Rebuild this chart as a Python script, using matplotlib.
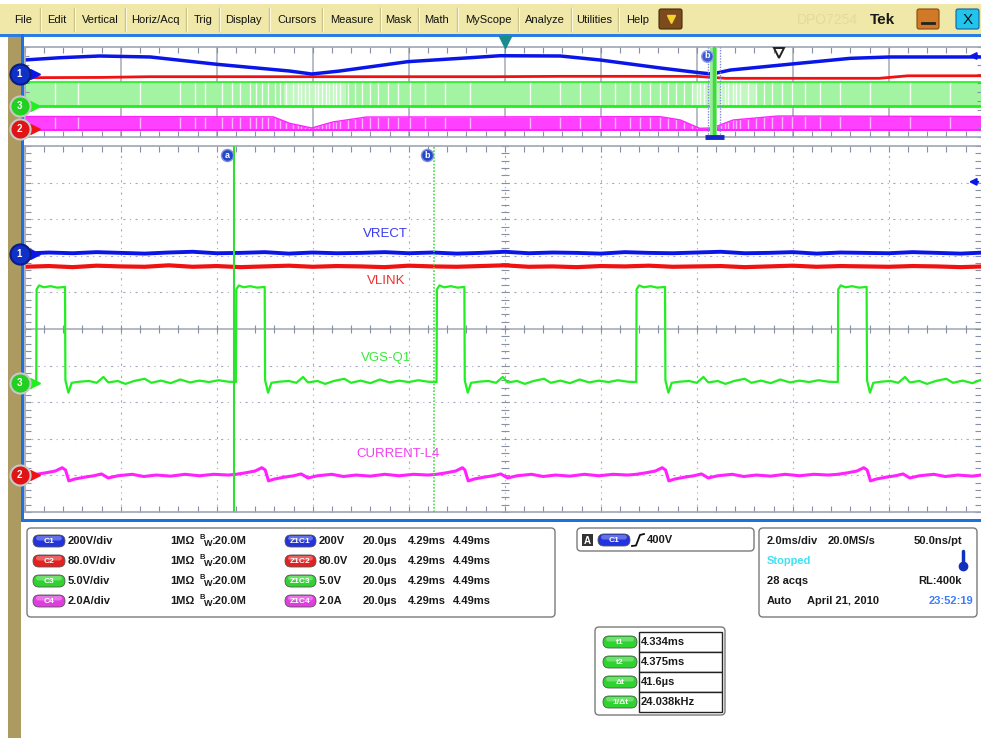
import numpy as np
import matplotlib
matplotlib.use("Agg")
import matplotlib.pyplot as plt
from matplotlib.patches import Rectangle, FancyBboxPatch
from matplotlib.transforms import blended_transform_factory

plt.rcParams['font.family'] = ['Liberation Sans', 'DejaVu Sans']

W, H = 981, 738
X0 = 24.7                     # left edge of the graticule, px
DIV_PX = 96.0                 # px per horizontal division
XMAX = (W - X0) / DIV_PX      # visible divisions

# ---------------- overview record (2.0 ms/div), values in divisions ----------------
ov_vrect_t = [0, 0.37, 0.78, 1.31, 2.0, 2.76, 2.99, 3.28, 3.99, 4.64, 4.95, 5.58,
              5.99, 6.62, 7.03, 7.16, 7.35, 7.99, 8.6, 9.01, 9.96]
ov_vrect_v = [3.56, 3.81, 4.0, 3.89, 3.08, 2.33, 2.0, 2.33, 3.37, 3.81, 4.03, 4.0,
              3.56, 2.67, 2.14, 2.0, 2.44, 3.11, 3.74, 3.89, 3.89]
ov_vlink_t = [0, 0.8, 1.3, 4.9, 5.6, 7.0, 7.3, 8.9, 9.2, 9.96]
ov_vlink_v = [1.59, 1.62, 1.70, 1.70, 1.74, 1.74, 1.52, 1.52, 1.80, 1.80]
ov_vgs_hi, ov_vgs_lo = 1.14, -1.56
ov_il_top_t = [0, 2.59, 2.76, 2.99, 3.21, 3.56, 6.62, 6.83, 7.03, 7.16, 7.38, 7.84, 9.96]
ov_il_top_v = [-2.72, -2.76, -3.48, -4.0, -3.33, -2.78, -2.74, -3.11, -4.03, -4.0,
               -3.11, -2.67, -2.72]
ov_il_bot = -4.22
ov_alias_t = [0.32, 0.56, 1.20, 1.62, 1.77, 1.88, 2.06, 2.16, 2.24, 2.35, 2.41, 2.47,
              2.53, 2.61, 2.66, 2.72, 2.80, 2.85, 2.88, 2.92, 2.96, 3.02, 3.06, 3.10,
              3.14, 3.17, 3.21, 3.24, 3.28, 3.37, 3.44, 3.51, 3.60, 3.68, 3.78, 3.89,
              4.01, 4.17, 4.38, 4.64, 5.26, 5.58, 5.78, 5.99, 6.15, 6.31, 6.41, 6.51,
              6.62, 6.70, 6.78, 6.87, 6.95, 7.00, 7.03, 7.08, 7.25, 7.29, 7.33, 7.38,
              7.41, 7.45, 7.53, 7.62, 7.70, 7.78, 7.89, 7.99, 8.13, 8.28, 8.49, 8.81,
              9.22, 9.64]
ov_pale_zones = [(2.70, 3.35), (6.95, 7.62)]
ov_ground = {'1': 2.0, '3': -1.52, '2': -4.11}
ov_trig_level = 4.0
zoom_box = (7.12, 7.24)
zoom_cursor = (7.14, 7.21)

# ---------------- zoomed record (20 us/div), values in divisions ----------------
sample_t = np.linspace(0, 10, 41)
vrect_v = [2.06, 2.09, 2.07, 2.10, 2.08, 2.06, 2.09, 2.11, 2.07, 2.08, 2.10, 2.06, 2.09,
           2.07, 2.08, 2.10, 2.07, 2.09, 2.06, 2.08, 2.11, 2.07, 2.09, 2.08, 2.06, 2.10,
           2.08, 2.07, 2.09, 2.11, 2.07, 2.08, 2.10, 2.06, 2.09, 2.08, 2.07, 2.10, 2.08,
           2.06, 2.09]
vlink_v = [1.70, 1.72, 1.69, 1.73, 1.71, 1.70, 1.74, 1.70, 1.72, 1.69, 1.71, 1.73, 1.70,
           1.72, 1.71, 1.69, 1.73, 1.71, 1.70, 1.72, 1.74, 1.70, 1.71, 1.69, 1.72, 1.71,
           1.73, 1.70, 1.71, 1.72, 1.69, 1.71, 1.73, 1.70, 1.72, 1.71, 1.70, 1.72, 1.71,
           1.69, 1.71]
t_rise = [0.12, 2.20, 4.29, 6.37, 8.47]
t_fall = [0.42, 2.50, 4.58, 6.67, 8.77]
vgs_high_dt = [0.004, 0.03, 0.08, 0.15, 0.22]
vgs_high_v = [1.08, 1.19, 1.14, 1.17, 1.13]
vgs_low_dt = [0.004, 0.035, 0.07, 0.15, 0.25, 0.33, 0.40, 0.45, 0.55, 0.63, 0.72, 0.83,
              0.90, 1.00, 1.10, 1.20, 1.30, 1.40, 1.50, 1.60, 1.70]
vgs_low_v = [-1.40, -1.74, -1.47, -1.44, -1.42, -1.47, -1.31, -1.46, -1.42, -1.50,
             -1.42, -1.36, -1.47, -1.41, -1.48, -1.38, -1.46, -1.41, -1.45, -1.40, -1.44]
il_on_dt = [0.10, 0.20, 0.27]
il_on_v = [-3.93, -3.88, -3.79]
il_off_dt = [0.005, 0.04, 0.10, 0.2, 0.3, 0.38, 0.45, 0.55, 0.7, 0.82, 0.95, 1.1, 1.25,
             1.4, 1.55, 1.7]
il_off_v = [-3.85, -4.15, -4.10, -4.05, -4.01, -3.96, -4.07, -4.01, -3.97, -4.03, -3.99,
            -4.02, -3.97, -4.01, -3.97, -3.99]
main_ground = {'1': 2.04, '3': -1.47, '2': -3.99}
main_trig_level = 4.02
cursor_a, cursor_b = 2.18, 4.26

# ---------------- readout texts ----------------
menu_items = ['File', 'Edit', 'Vertical', 'Horiz/Acq', 'Trig', 'Display', 'Cursors',
              'Measure', 'Mask', 'Math', 'MyScope', 'Analyze', 'Utilities', 'Help']
menu_x = [23.5, 57, 100, 155.5, 203, 243.5, 296.5, 352, 398.5, 436.5, 488.5, 545, 594.5, 638]
menu_sep = [39.5, 74, 125, 186, 219, 269, 322, 380, 418, 457, 518, 571, 618]
ch_names = ['C1', 'C2', 'C3', 'C4']
ch_colors = ['#2233DD', '#E52020', '#2FD32F', '#E03CE0']
ch_scale = ['200V/div', '80.0V/div', '5.0V/div', '2.0A/div']
zoom_names = ['Z1C1', 'Z1C2', 'Z1C3', 'Z1C4']
zoom_scale = ['200V', '80.0V', '5.0V', '2.0A']
cur_names = ['t1', 't2', '\u0394t', '1/\u0394t']
cur_values = ['4.334ms', '4.375ms', '41.6\u00b5s', '24.038kHz']

BLUE, RED, GREEN, MAG = '#0A16E8', '#F01212', '#22EE22', '#FF22FF'
GRID, TICK, FRAME = '#A4AABC', '#8890A6', '#A0A5B5'
TAN = '#AC9A60'

fig = plt.figure(figsize=(W / 100, H / 100), dpi=100)
fig.patch.set_facecolor('white')
bg = fig.add_axes([0, 0, 1, 1])
bg.set_xlim(0, W)
bg.set_ylim(H, 0)
bg.axis('off')
bg.set_zorder(-1)


def box(x0, y0, x1, y1, r=4, fc='white', ec='#7A7A7A', lw=1.0, z=1, alpha=1.0):
    bg.add_patch(FancyBboxPatch((x0, y0), x1 - x0, y1 - y0,
                                boxstyle=f'round,pad=0,rounding_size={r}',
                                fc=fc, ec=ec, lw=lw, zorder=z, alpha=alpha))


def pill(xc, yc, w, color, label, h=12):
    box(xc - w / 2, yc - h / 2, xc + w / 2, yc + h / 2, r=h / 2, fc=color, ec='#555555', lw=0.6, z=3)
    box(xc - w / 2 + 3, yc - h / 2 + 1, xc + w / 2 - 3, yc - 0.5, r=2.5, fc='white', ec='none', z=4, alpha=0.3)
    bg.text(xc, yc + 0.5, label, color='white', fontsize=6, fontweight='bold', ha='center', va='center', zorder=5)


def txt(x, y, s, **kw):
    kw.setdefault('fontsize', 8)
    kw.setdefault('fontweight', 'bold')
    kw.setdefault('va', 'center')
    kw.setdefault('color', '#1A1A1A')
    bg.text(x, y, s, **kw)


# ---------------- window chrome ----------------
bg.add_patch(Rectangle((0, 4), W, 30, fc='#EFE8A9', ec='none'))
bg.add_patch(Rectangle((0, 33.5), W, 3.5, fc='#2A7DE1', ec='none'))
for sx in menu_sep:
    bg.plot([sx, sx], [8, 31], color='#CCC38A', lw=1)
    bg.plot([sx + 1, sx + 1], [8, 31], color='#FBF7DA', lw=0.8)
for name, cx in zip(menu_items, menu_x):
    txt(cx, 20, name, ha='center', fontweight='normal', color='#111111')
box(659, 9, 682, 29, r=2, fc='#7B4B1E', ec='#4A2A0A', lw=0.8)
bg.plot([670.5], [19], marker='v', ms=6, color='#F5D32A')
txt(827, 20, 'DPO7254', ha='center', fontsize=10, fontweight='normal', color='#E4DA9A')
txt(882, 20, 'Tek', ha='center', fontsize=11)
box(917, 9, 939, 29, r=2, fc='#D07A28', ec='#8A4A10', lw=0.8)
bg.plot([922, 934], [23, 23], color='#222222', lw=2)
box(956, 9, 979, 29, r=2, fc='#22C4EE', ec='#1060A0', lw=0.8)
txt(967.5, 19.5, 'X', ha='center', fontsize=11, fontweight='normal', color='#111111')

bg.add_patch(Rectangle((8, 37), 13, H - 37, fc=TAN, ec='none'))
bg.add_patch(Rectangle((21, 34), 3, 488, fc='#1E6FE0', ec='none'))
bg.add_patch(Rectangle((21, 519), W - 21, 3, fc='#1E6FE0', ec='none'))

# ---------------- graticules ----------------
ov = fig.add_axes([X0 / W, 1 - 137 / H, (W - X0) / W, 90 / H])
ax = fig.add_axes([X0 / W, 1 - 512 / H, (W - X0) / W, 366 / H])
for a in (ov, ax):
    a.set_xlim(0, XMAX)
    a.set_ylim(-5, 5)
    a.set_facecolor('white')
    for side in ('top', 'bottom', 'left'):
        a.spines[side].set_color(FRAME)
        a.spines[side].set_linewidth(1.2)
    a.spines['right'].set_visible(False)
    a.set_xticks(np.arange(0, XMAX, 0.2))
    a.tick_params(which='both', direction='in', top=True, bottom=True, left=True, right=True,
                  labelbottom=False, labelleft=False, color=TICK, width=0.8)

ov.set_yticks(np.arange(-5, 5.1, 1))
ov.tick_params(axis='x', length=4.3)
ov.tick_params(axis='y', length=3)
for xv in range(1, 10):
    ov.axvline(xv, color='#B2B6C2', lw=1.3, zorder=0.5)
ov.axhline(0, color='#B2B6C2', lw=1.3, zorder=0.5)

ax.set_yticks(np.arange(-5, 5.01, 0.2))
ax.tick_params(axis='x', length=4.5)
ax.tick_params(axis='y', length=4.3)
for xv in range(1, 10):
    ax.axvline(xv, color=GRID, lw=0.8, ls=(0, (2, 4, 1, 4)), zorder=0.5)
for yv in range(-4, 5):
    if yv != 0:
        ax.axhline(yv, color=GRID, lw=0.8, ls=(0, (2, 4, 1, 4)), zorder=0.5)
ax.axhline(0, color=FRAME, lw=1.1, zorder=0.5)
xt = np.arange(0, XMAX, 0.2)
yt = np.arange(-5, 5.01, 0.2)
ax.plot(xt, np.zeros_like(xt), ls='none', marker='|', ms=5.5, mew=0.8, color=TICK, zorder=0.6)
ax.plot(np.full_like(yt, 5.0), yt, ls='none', marker='_', ms=5.5, mew=0.8, color=TICK, zorder=0.6)

# ---------------- overview traces ----------------
ov.fill_between([0, XMAX], ov_vgs_lo, ov_vgs_hi, color='#A2F4A2', lw=0, zorder=1)
for z0, z1 in ov_pale_zones:
    ov.fill_between([z0, z1], ov_vgs_lo, ov_vgs_hi, color='white', alpha=0.35, lw=0, zorder=1.1)
ov.vlines(ov_alias_t, ov_vgs_lo, ov_vgs_hi, color='white', lw=1.0, alpha=0.9, zorder=1.2)
ov.plot([0, XMAX], [ov_vgs_hi, ov_vgs_hi], color=GREEN, lw=1.2, zorder=1.3)
ov.plot([0, XMAX], [ov_vgs_lo, ov_vgs_lo], color=GREEN, lw=2.0, zorder=1.3)

ov.fill_between(ov_il_top_t, ov_il_bot, ov_il_top_v, color='#FF40FF', lw=0, zorder=1)
ov.vlines(ov_alias_t, ov_il_bot, np.interp(ov_alias_t, ov_il_top_t, ov_il_top_v),
          color='#FFB8FF', lw=1.0, zorder=1.2)
ov.plot(ov_il_top_t, ov_il_top_v, color=MAG, lw=1.0, zorder=1.3)
ov.plot([0, XMAX], [ov_il_bot, ov_il_bot], color=MAG, lw=1.5, zorder=1.3)

ov.plot(ov_vlink_t, ov_vlink_v, color=RED, lw=2.0, zorder=2)
ov.plot(ov_vrect_t, ov_vrect_v, color=BLUE, lw=2.5, zorder=2.1)

# zoom window and cursors in the overview
ov.axvspan(zoom_cursor[0], zoom_cursor[1], color='#9CEB9C', lw=0, zorder=3)
ov.axvline(sum(zoom_cursor) / 2, color='#3CDC3C', lw=2.5, zorder=3.1)
for zb in zoom_box:
    ov.axvline(zb, color='#8088E0', lw=1.0, ls=(0, (1, 1)), zorder=3.2)
ov.plot([zoom_box[0] - 0.03, zoom_box[1] + 0.04], [-5, -5], color='#1428C8', lw=3.5,
        solid_capstyle='butt', clip_on=False, zorder=5)
ov.scatter([zoom_box[0] - 0.01], [4.0], s=70, color='#3A5AD0', edgecolors='#90A0E8',
           linewidths=1, zorder=6, clip_on=False)
ov.text(zoom_box[0] - 0.01, 4.0, 'b', color='white', fontsize=6.5, fontweight='bold',
        ha='center', va='center', zorder=7)
ov.plot([7.86], [4.3], marker='v', ms=7.5, mfc='white', mec='#222222', mew=1.4, zorder=6)
trig_tr = blended_transform_factory(ov.transData, fig.transFigure)
ov.plot([5.0], [1 - 41.5 / H], marker='v', ms=8, color='#188C8C', transform=trig_tr,
        clip_on=False, zorder=6)

# ---------------- zoomed traces ----------------
ax.plot(sample_t, vrect_v, color=BLUE, lw=2.8, zorder=2)
ax.plot(sample_t, vlink_v, color=RED, lw=3.0, zorder=2)

vgs_x, vgs_y = [0.0], [-1.45]
il_x, il_y = [0.0], [-3.98]
for i, (r, f) in enumerate(zip(t_rise, t_fall)):
    nxt = t_rise[i + 1] if i + 1 < len(t_rise) else XMAX + 0.1
    vgs_x.append(r)
    vgs_y.append(-1.45)
    for dt, v in zip(vgs_high_dt, vgs_high_v):
        vgs_x.append(r + dt)
        vgs_y.append(v)
    vgs_x.append(f)
    vgs_y.append(1.15)
    for dt, v in zip(vgs_low_dt, vgs_low_v):
        if f + dt < nxt:
            vgs_x.append(f + dt)
            vgs_y.append(v)
    il_x.append(r)
    il_y.append(-3.97)
    for dt, v in zip(il_on_dt, il_on_v):
        il_x.append(r + dt)
        il_y.append(v)
    for dt, v in zip(il_off_dt, il_off_v):
        if f + dt < nxt:
            il_x.append(f + dt)
            il_y.append(v)
ax.plot(vgs_x, vgs_y, color=GREEN, lw=1.6, zorder=2.2)
ax.plot(il_x, il_y, color=MAG, lw=2.2, zorder=2.2)

ax.text(3.52, 2.60, 'VRECT', color='#3A3AF0', fontsize=9.5, va='center', zorder=4)
ax.text(3.57, 1.31, 'VLINK', color='#F03030', fontsize=9.5, va='center', zorder=4)
ax.text(3.50, -0.79, 'VGS-Q1', color='#3CE83C', fontsize=9.5, va='center', zorder=4)
ax.text(3.46, -3.42, 'CURRENT-L4', color='#F040F0', fontsize=9.5, va='center', zorder=4)

ax.axvline(cursor_a, color='#30E030', lw=1.5, zorder=3)
ax.axvline(cursor_b, color='#40E040', lw=1.2, ls=(0, (1, 1)), zorder=3)
for cx, lab in ((cursor_a, 'a'), (cursor_b, 'b')):
    ax.scatter([cx - 0.07], [4.75], s=75, color='#2248C8', edgecolors='#8090E0',
               linewidths=1, zorder=6)
    ax.text(cx - 0.07, 4.75, lab, color='white', fontsize=6.5, fontweight='bold',
            ha='center', va='center', zorder=7)

# ---------------- channel markers and trigger level ----------------
markers = {'1': ('#1030C8', '#0A1C80', BLUE), '3': ('#22D022', '#C8C8C8', GREEN),
           '2': ('#E01414', '#C8C8C8', RED)}
for a, grounds, trig in ((ov, ov_ground, ov_trig_level), (ax, main_ground, main_trig_level)):
    tr = blended_transform_factory(fig.transFigure, a.transData)
    for lab, lvl in grounds.items():
        face, ring, arr = markers[lab]
        a.plot([26 / W, 34 / W], [lvl, lvl], transform=tr, color=arr, lw=1.5, clip_on=False, zorder=8)
        a.plot([35 / W], [lvl], marker='>', ms=7, color=arr, transform=tr, clip_on=False, zorder=8)
        a.scatter([19.5 / W], [lvl], s=210, color=face, edgecolors=ring, linewidths=1.5,
                  transform=tr, clip_on=False, zorder=9)
        a.text(19.5 / W, lvl, lab, transform=tr, color='white', fontsize=7, fontweight='bold',
               ha='center', va='center', zorder=10, clip_on=False)
    a.annotate('', xy=(966 / W, trig), xytext=(981 / W, trig), xycoords=tr, textcoords=tr,
               arrowprops=dict(arrowstyle='-|>', color=BLUE, lw=1.5, mutation_scale=10),
               annotation_clip=False, zorder=8)

# ---------------- readout panels ----------------
box(27, 528, 555, 617)
rows = [541, 561, 581, 601]
for y, nm, col, sc, zn, zs in zip(rows, ch_names, ch_colors, ch_scale, zoom_names, zoom_scale):
    pill(49, y, 32, col, nm)
    txt(68, y, sc)
    txt(170, y, '1M\u03a9')
    txt(200, y - 3.5, 'B', fontsize=5.5)
    txt(204, y + 2.5, 'W', fontsize=6.5)
    txt(212, y, ':20.0M')
    pill(300.5, y, 31, col, zn)
    txt(319, y, zs)
    txt(363, y, '20.0\u00b5s')
    txt(408, y, '4.29ms')
    txt(453, y, '4.49ms')

box(577, 528, 754, 551)
bg.add_patch(Rectangle((582, 534), 11, 12, fc='#333333', ec='none', zorder=3))
txt(587.5, 540.5, 'A', ha='center', fontsize=7, color='white')
pill(614, 540, 32, ch_colors[0], 'C1')
bg.plot([632, 636, 640, 644], [546, 545.5, 535, 534], color='#111111', lw=1.3)
txt(647, 540, '400V')

box(759, 528, 977, 617)
txt(767, 541, '2.0ms/div')
txt(828, 541, '20.0MS/s')
txt(962, 541, '50.0ns/pt', ha='right')
txt(767, 561, 'Stopped', color='#3EE0F5')
bg.plot([963, 963], [551, 565], color='#1030C0', lw=2.5, solid_capstyle='round')
bg.plot([963], [566], marker='o', ms=6, color='#1030C0')
txt(767, 581, '28 acqs')
txt(962, 581, 'RL:400k', ha='right')
txt(767, 601, 'Auto')
txt(807, 601, 'April 21, 2010')
txt(973, 601, '23:52:19', ha='right', color='#3B7CFF')

box(595, 627, 725, 715)
cell_top = [632, 652, 672, 692]
for y0, nm, val in zip(cell_top, cur_names, cur_values):
    bg.add_patch(Rectangle((639, y0), 83, 20, fc='white', ec='#222222', lw=1, zorder=2))
    pill(620, y0 + 10, 34, '#2FD32F', nm)
    txt(641, y0 + 10, val, zorder=3)

fig.savefig('out.png', dpi=100, facecolor='white')
